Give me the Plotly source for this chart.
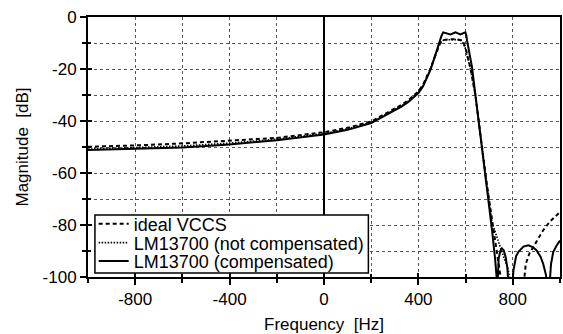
import plotly.graph_objects as go

# ---- data ----
f_comp = [-1000, -800, -600, -400, -200, 0, 100, 200, 300, 330, 360, 380, 400, 420, 438, 450, 459, 470, 477, 485, 491,
          498, 505, 515, 536, 557, 578, 599, 603, 606, 627, 641, 655, 665, 688, 712, 725, 731,
          735, 740, 747, 754, 762, 770, 777, 782,
          797, 803, 814, 824, 845, 866, 885, 901, 918, 929, 940, 948,
          955, 962, 971, 985, 1000]
db_comp = [-51.2, -50.8, -50.2, -49.0, -47.4, -45.2, -43.4, -40.8, -36.0, -34.4, -32.5, -31.0, -29.3, -26.6, -23.2, -20.5, -18.2, -15.0, -12.8, -10.6, -9.0,
           -7.2, -5.9, -6.2, -6.7, -5.9, -6.7, -5.9, -7.0, -9.0, -19.2, -29.5, -40.0, -46.2, -62.7, -82.0, -93.0, -104,
           -104, -93.0, -90.0, -89.0, -89.8, -92.5, -96.5, -104,
           -104, -97.3, -92.0, -90.3, -88.3, -87.8, -88.5, -89.8, -92.3, -95.0, -99.0, -104,
           -104, -95.0, -90.5, -88.0, -86.0]

f_ideal = [-1000, -800, -600, -400, -200, 0, 100, 200, 300, 330, 360, 380, 400, 420, 438, 450, 459, 470, 477, 485, 491,
           500, 510, 530, 560, 580, 592, 600, 606, 620, 641, 655, 688, 712, 730, 745, 755,
           845, 855, 870, 887, 910, 929, 957, 980, 1000]
db_ideal = [-49.9, -49.4, -48.6, -47.6, -46.5, -44.3, -42.6, -40.2, -35.3, -33.7, -31.8, -30.3, -28.6, -26.0, -22.7, -20.1, -17.9, -15.0, -13.2, -11.4, -10.3,
            -9.3, -8.8, -8.6, -8.6, -8.9, -10.0, -12.0, -14.0, -19.5, -29.8, -40.2, -63.0, -78.0, -90.0, -98.0, -104,
            -104, -95.0, -91.0, -88.3, -84.5, -82.0, -78.7, -76.5, -75.0]

f_notcomp = [-1000, -800, -600, -400, -200, 0, 100, 200, 300, 330, 360, 380, 400, 420, 438, 450, 459, 470, 477, 485, 491,
             500, 510, 530, 560, 580, 592, 600, 606, 620, 641, 655, 688, 712, 740, 760, 780, 796, 805]
db_notcomp = [-50.8, -50.3, -49.6, -48.5, -47.0, -44.8, -43.0, -40.5, -35.7, -34.1, -32.2, -30.7, -29.0, -26.3, -23.0, -20.3, -18.0, -15.0, -13.0, -11.2, -10.2,
              -9.2, -8.8, -8.7, -8.7, -8.9, -10.3, -12.5, -14.5, -19.8, -29.9, -40.3, -63.0, -79.0, -87.0, -92.0, -97.0, -104, -110]

series_names = ["ideal VCCS", "LM13700 (not compensated)", "LM13700 (compensated)"]
x_ticks = [-800, -400, 0, 400, 800]
y_ticks = [0, -20, -40, -60, -80, -100]

FONT = "Liberation Sans, Arial, Helvetica, sans-serif"
GRID = "#555555"

fig = go.Figure()
fig.add_trace(go.Scatter(x=f_ideal, y=db_ideal, mode="lines", name=series_names[0], legend="legend",
                         line=dict(color="black", width=2, dash="4px,3px")))
fig.add_trace(go.Scatter(x=f_notcomp, y=db_notcomp, mode="lines", name=series_names[1], legend="legend2",
                         line=dict(color="black", width=1.6, dash="1.5px,1.5px")))
fig.add_trace(go.Scatter(x=f_comp, y=db_comp, mode="lines", name=series_names[2], legend="legend3",
                         line=dict(color="black", width=2)))
# empty trace so the overlay axes (inside tick marks) are drawn
fig.add_trace(go.Scatter(x=[], y=[], xaxis="x2", yaxis="y2", showlegend=False, hoverinfo="skip"))

axis_common = dict(
    showline=True, linecolor="black", linewidth=2, mirror=True,
    ticks="outside", tickcolor="black", tickwidth=1.5, ticklen=6,
    showgrid=True, gridcolor=GRID, gridwidth=1, griddash="dot",
    tickfont=dict(family=FONT, size=17, color="black"),
)

leg_common = dict(xanchor="left", yanchor="middle", bgcolor="rgba(0,0,0,0)", borderwidth=0,
                  font=dict(family=FONT, size=18, color="black"), itemwidth=30)

fig.update_layout(
    width=563, height=334,
    margin=dict(l=88, r=1, t=17, b=57),
    paper_bgcolor="white", plot_bgcolor="white",
    font=dict(family=FONT, size=17, color="black"),
    showlegend=True,
    legend=dict(x=0.012, y=0.204, **leg_common),
    legend2=dict(x=0.012, y=0.131, **leg_common),
    legend3=dict(x=0.012, y=0.060, **leg_common),
    shapes=[dict(type="rect", xref="paper", yref="paper", x0=0.0147, x1=0.594, y0=0.0154, y1=0.238,
                 fillcolor="white", line=dict(color="black", width=1.5), layer="above")],
    xaxis=dict(range=[-1000, 1000], tickvals=x_ticks, ticktext=[str(v) for v in x_ticks],
               zeroline=True, zerolinecolor="black", zerolinewidth=1.5,
               minor=dict(dtick=200, tick0=0, ticks="outside", ticklen=4, tickcolor="black",
                          showgrid=True, gridcolor=GRID, griddash="dot", gridwidth=1),
               title=dict(text="Frequency\u00a0 [Hz]", font=dict(family=FONT, size=17), standoff=12),
               **axis_common),
    yaxis=dict(range=[-100, 0], tickvals=y_ticks, ticktext=[str(v) for v in y_ticks],
               zeroline=False,
               minor=dict(dtick=10, tick0=0, ticks="outside", ticklen=4, tickcolor="black",
                          showgrid=True, gridcolor=GRID, griddash="dot", gridwidth=1),
               title=dict(text="Magnitude\u00a0 [dB]", font=dict(family=FONT, size=17), standoff=10),
               **axis_common),
    xaxis2=dict(overlaying="x", matches="x", anchor="y2", side="bottom", range=[-1000, 1000],
                tickvals=x_ticks, ticks="inside", ticklen=4, tickwidth=1.5, tickcolor="black",
                showticklabels=False, showgrid=False, showline=False, zeroline=False,
                minor=dict(dtick=200, tick0=0, ticks="inside", ticklen=3, tickcolor="black")),
    yaxis2=dict(overlaying="y", matches="y", anchor="x2", side="left", range=[-100, 0],
                tickvals=y_ticks, ticks="inside", ticklen=4, tickwidth=1.5, tickcolor="black",
                showticklabels=False, showgrid=False, showline=False, zeroline=False,
                minor=dict(dtick=10, tick0=0, ticks="inside", ticklen=3, tickcolor="black")),
)

fig.write_html("out.html", config={"displayModeBar": False},
               post_script="document.body.style.margin='0';document.body.style.padding='0';")
